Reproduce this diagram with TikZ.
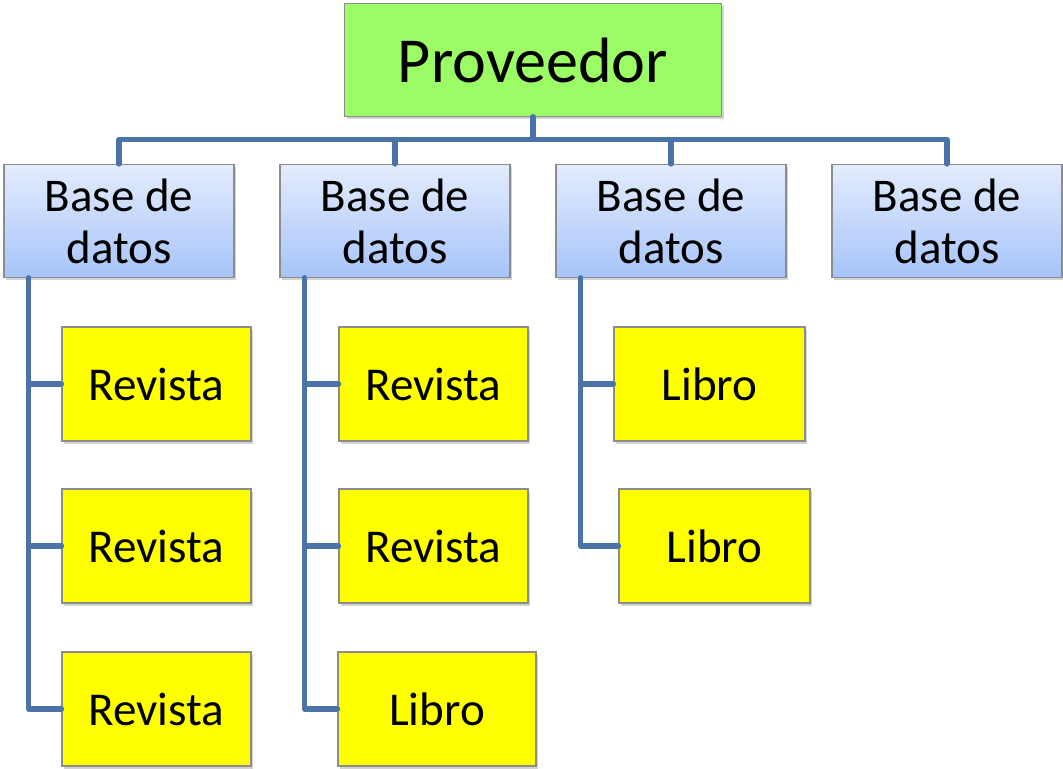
\documentclass[tikz,border=0pt]{standalone}
\usepackage{fontspec}
\setmainfont{Carlito}
\usepackage{tikz}
\usetikzlibrary{shadows,calc}

\definecolor{provgreen}{RGB}{156,252,102}
\definecolor{bdtop}{RGB}{228,236,253}
\definecolor{bdbot}{RGB}{166,196,250}
\definecolor{itemyellow}{RGB}{255,255,0}
\definecolor{linkblue}{RGB}{74,116,168}
\definecolor{boxgray}{RGB}{140,140,140}

\begin{document}
\begin{tikzpicture}[
		boxbase/.style={draw=boxgray, line width=0.6pt, inner sep=0pt, align=center,
			drop shadow={shadow xshift=0.04cm, shadow yshift=-0.06cm, opacity=0.35}},
		prov/.style={boxbase, fill=provgreen, minimum width=7.54cm, minimum height=2.26cm,
			font=\fontsize{36.5}{40}\selectfont},
		bd/.style={boxbase, top color=bdtop, bottom color=bdbot, minimum width=4.6cm,
			minimum height=2.26cm, font=\fontsize{26.7}{29.6}\selectfont},
		item/.style={boxbase, fill=itemyellow, minimum width=3.78cm, minimum height=2.28cm,
			font=\fontsize{26.8}{30}\selectfont},
		conn/.style={draw=linkblue, line width=3pt, line join=round, line cap=round}]
		\useasboundingbox (0,0) rectangle (21.26,15.38);
		% top
		\node[prov] (prov) at (10.66,14.18) {Proveedor};
		% bases de datos
		\node[bd] (bd1) at (2.38,10.96) {Base de\\datos};
		\node[bd] (bd2) at (7.90,10.96) {Base de\\datos};
		\node[bd] (bd3) at (13.42,10.96) {Base de\\datos};
		\node[bd] (bd4) at (18.94,10.96) {Base de\\datos};
		% contenidos
		\node[item] (rev11) at (3.13,7.70) {Revista};
		\node[item] (rev12) at (3.13,4.46) {Revista};
		\node[item] (rev13) at (3.13,1.20) {Revista};
		\node[item] (rev21) at (8.67,7.70) {Revista};
		\node[item] (rev22) at (8.67,4.46) {Revista};
		\node[item, minimum width=3.96cm] (lib23) at (8.74,1.20) {Libro};
		\node[item, minimum width=3.82cm] (lib31) at (14.19,7.70) {Libro};
		\node[item, minimum width=3.82cm] (lib32) at (14.29,4.46) {Libro};
		% conexiones
		\draw[conn] (prov.south) -- ++(0,-0.45) -| (bd1.north);
		\draw[conn] (prov.south) -- ++(0,-0.45) -| (bd2.north);
		\draw[conn] (prov.south) -- ++(0,-0.45) -| (bd3.north);
		\draw[conn] (prov.south) -- ++(0,-0.45) -| (bd4.north);
		\draw[conn] ([xshift=0.5cm]bd1.south west) |- (rev11.west);
		\draw[conn] ([xshift=0.5cm]bd1.south west) |- (rev12.west);
		\draw[conn] ([xshift=0.5cm]bd1.south west) |- (rev13.west);
		\draw[conn] ([xshift=0.5cm]bd2.south west) |- (rev21.west);
		\draw[conn] ([xshift=0.5cm]bd2.south west) |- (rev22.west);
		\draw[conn] ([xshift=0.5cm]bd2.south west) |- (lib23.west);
		\draw[conn] ([xshift=0.5cm]bd3.south west) |- (lib31.west);
		\draw[conn] ([xshift=0.5cm]bd3.south west) |- (lib32.west);
	\end{tikzpicture}
\end{document}
